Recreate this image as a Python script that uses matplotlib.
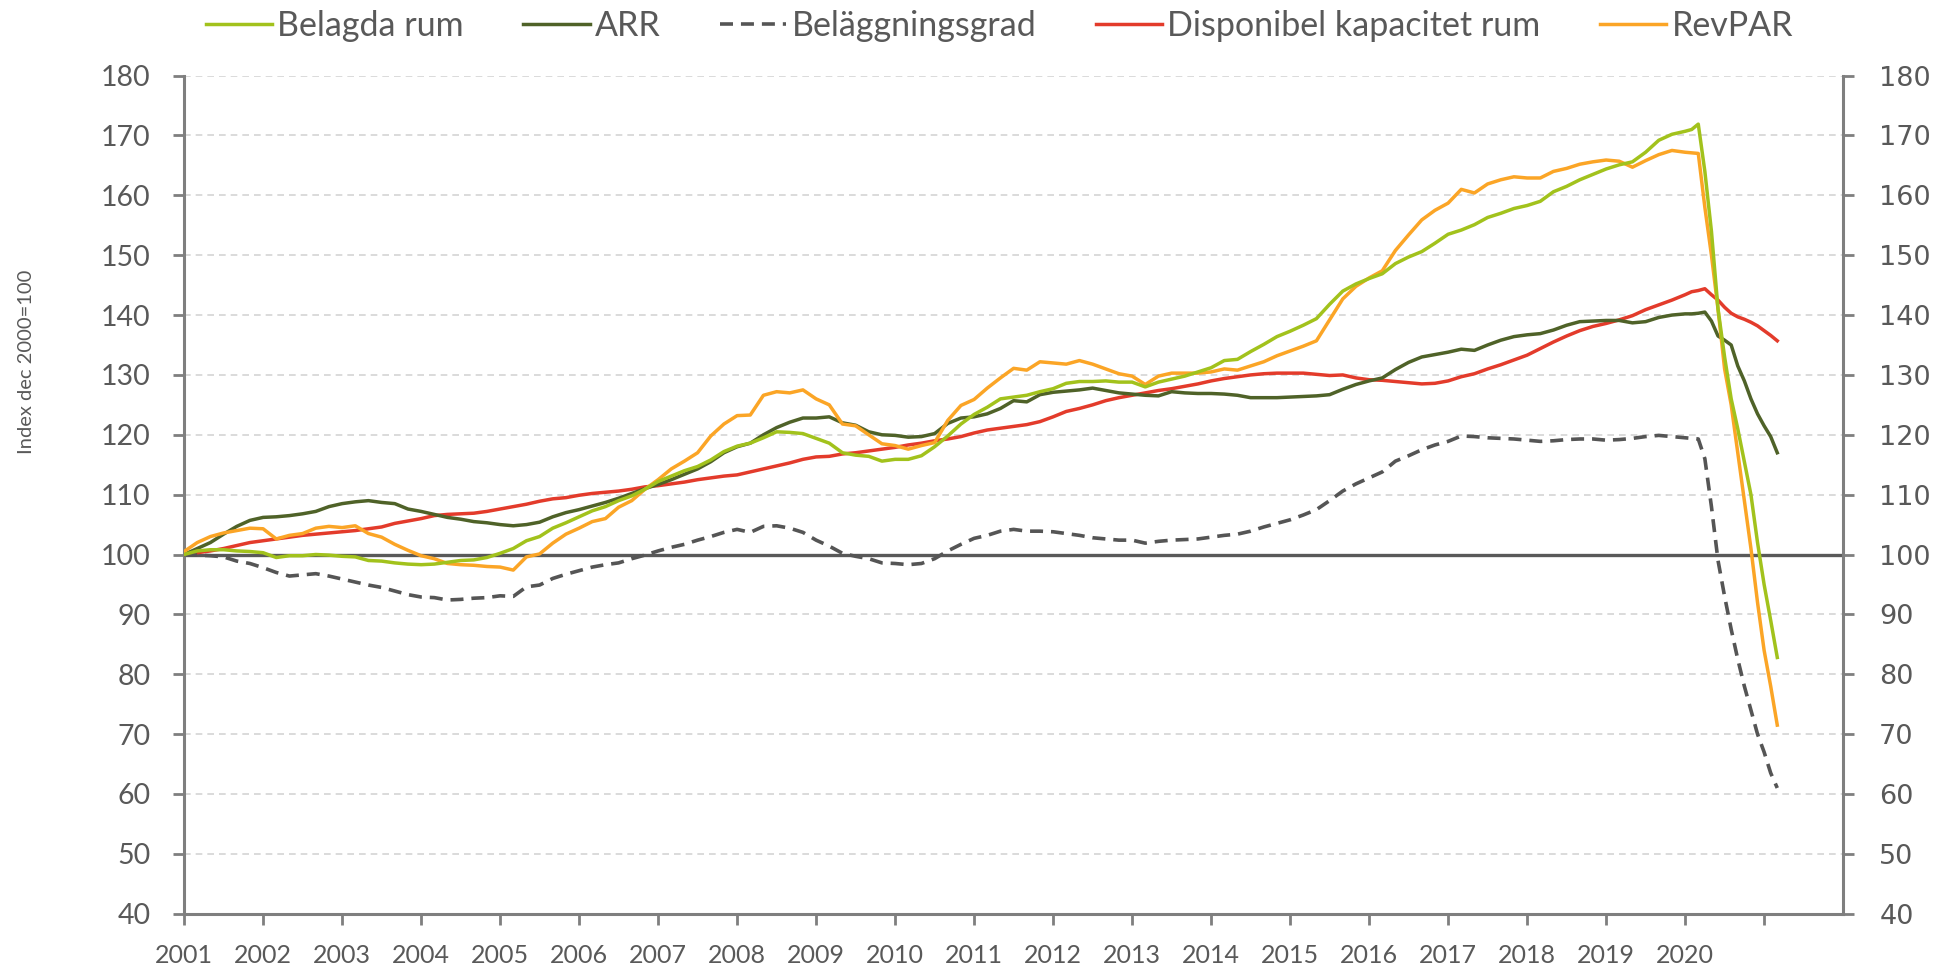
import matplotlib
matplotlib.use("Agg")
import matplotlib.pyplot as plt
import numpy as np

# ---------------- data ----------------
# months since Dec 2000 (Dec 2000 = index 100); bimonthly up to 2019, monthly through the 2020 drop
month_index = list(range(0, 229, 2)) + list(range(229, 243))
start_year = 2001

belagda_rum = [
    100.0, 100.6, 100.8, 100.8, 100.6, 100.5, 100.3, 99.5, 99.8, 99.8,
    100.0, 99.9, 99.7, 99.6, 99.0, 98.9, 98.6, 98.4, 98.3, 98.4,
    98.7, 99.0, 99.1, 99.5, 100.2, 101.0, 102.3, 103.0, 104.4, 105.3,
    106.3, 107.3, 108.0, 109.0, 109.8, 110.9, 112.2, 113.1, 114.0, 114.7,
    115.8, 117.2, 118.1, 118.6, 119.5, 120.5, 120.4, 120.2, 119.4, 118.6,
    117.0, 116.6, 116.4, 115.6, 115.9, 115.9, 116.5, 118.0, 119.8, 121.8,
    123.4, 124.6, 126.0, 126.3, 126.6, 127.2, 127.7, 128.6, 128.9, 128.9,
    129.0, 128.8, 128.8, 128.0, 128.8, 129.3, 129.8, 130.5, 131.2, 132.4,
    132.6, 133.9, 135.1, 136.4, 137.3, 138.3, 139.4, 141.8, 144.0, 145.2,
    146.1, 146.9, 148.6, 149.7, 150.6, 152.0, 153.5, 154.2, 155.1, 156.3,
    157.0, 157.8, 158.3, 159.0, 160.6, 161.5, 162.6, 163.5, 164.4, 165.1,
    165.6, 167.2, 169.2, 170.2, 170.7,
    171.0, 171.9, 164.0, 154.0, 141.0, 133.0, 126.0, 121.0, 115.5, 110.0,
    102.0, 95.0, 89.0, 82.8,
]

arr = [
    100.0, 101.0, 102.0, 103.4, 104.7, 105.7, 106.2, 106.3, 106.5, 106.8,
    107.2, 108.0, 108.5, 108.8, 109.0, 108.7, 108.5, 107.6, 107.2, 106.7,
    106.2, 105.9, 105.5, 105.3, 105.0, 104.8, 105.0, 105.4, 106.3, 107.0,
    107.5, 108.1, 108.7, 109.4, 110.2, 111.0, 111.7, 112.5, 113.4, 114.3,
    115.5, 117.0, 118.0, 118.6, 120.0, 121.2, 122.1, 122.8, 122.8, 123.0,
    122.0, 121.6, 120.5, 120.0, 119.9, 119.6, 119.7, 120.2, 121.9, 122.8,
    123.0, 123.5, 124.4, 125.7, 125.5, 126.7, 127.1, 127.3, 127.5, 127.8,
    127.4, 127.0, 126.8, 126.6, 126.5, 127.2, 127.0, 126.9, 126.9, 126.8,
    126.6, 126.2, 126.2, 126.2, 126.3, 126.4, 126.5, 126.7, 127.6, 128.4,
    129.0, 129.5, 130.9, 132.1, 133.0, 133.4, 133.8, 134.3, 134.1, 135.0,
    135.8, 136.4, 136.7, 136.9, 137.5, 138.3, 138.9, 139.0, 139.1, 139.1,
    138.7, 138.9, 139.6, 140.0, 140.2,
    140.2, 140.3, 140.5, 139.0, 136.5, 135.8, 135.0, 131.5, 129.0, 126.0,
    123.5, 121.5, 119.7, 117.0,
]

belaggningsgrad = [
    100.0, 99.9, 99.8, 99.6, 98.9, 98.5, 97.8, 97.0, 96.4, 96.6,
    96.8, 96.4, 95.9, 95.4, 94.9, 94.5, 93.9, 93.3, 92.9, 92.8,
    92.4, 92.5, 92.7, 92.8, 93.1, 93.0, 94.6, 94.9, 96.0, 96.7,
    97.3, 97.9, 98.3, 98.6, 99.3, 99.9, 100.6, 101.2, 101.7, 102.4,
    103.0, 103.7, 104.2, 103.7, 104.7, 104.8, 104.4, 103.7, 102.4, 101.4,
    100.2, 99.7, 99.3, 98.6, 98.5, 98.3, 98.5, 99.3, 100.6, 101.7,
    102.7, 103.2, 103.9, 104.2, 103.9, 103.9, 103.8, 103.5, 103.2, 102.8,
    102.6, 102.4, 102.4, 101.9, 102.2, 102.4, 102.5, 102.6, 102.9, 103.2,
    103.4, 103.9, 104.6, 105.2, 105.8, 106.6, 107.5, 109.0, 110.6, 111.8,
    112.8, 113.8, 115.6, 116.5, 117.5, 118.3, 118.9, 119.8, 119.7, 119.5,
    119.4, 119.3, 119.1, 118.9, 119.0, 119.2, 119.3, 119.3, 119.1, 119.2,
    119.4, 119.7, 119.9, 119.7, 119.5,
    119.4, 119.3, 116.0, 108.0, 99.0, 93.0, 87.5, 82.5, 78.0, 74.0,
    70.0, 67.0, 63.5, 61.0,
]

disponibel_kapacitet = [
    100.0, 100.3, 100.6, 101.0, 101.5, 102.0, 102.3, 102.6, 102.9, 103.2,
    103.4, 103.6, 103.8, 104.0, 104.3, 104.6, 105.2, 105.6, 106.0, 106.5,
    106.7, 106.8, 106.9, 107.2, 107.6, 108.0, 108.4, 108.9, 109.3, 109.5,
    109.9, 110.2, 110.4, 110.6, 110.9, 111.3, 111.5, 111.8, 112.1, 112.5,
    112.8, 113.1, 113.3, 113.8, 114.3, 114.8, 115.3, 115.9, 116.3, 116.4,
    116.8, 117.0, 117.3, 117.6, 117.9, 118.3, 118.6, 119.0, 119.3, 119.7,
    120.3, 120.8, 121.1, 121.4, 121.7, 122.2, 123.0, 123.9, 124.4, 125.0,
    125.7, 126.2, 126.6, 127.0, 127.4, 127.7, 128.1, 128.5, 129.0, 129.4,
    129.7, 130.0, 130.2, 130.3, 130.3, 130.3, 130.1, 129.9, 130.0, 129.5,
    129.2, 129.1, 128.9, 128.7, 128.5, 128.6, 129.0, 129.7, 130.2, 131.0,
    131.7, 132.5, 133.3, 134.4, 135.5, 136.5, 137.4, 138.1, 138.6, 139.2,
    139.9, 140.9, 141.7, 142.5, 143.4,
    143.9, 144.1, 144.4, 143.4, 142.5, 141.3, 140.3, 139.7, 139.3, 138.8,
    138.2, 137.4, 136.6, 135.7,
]

revpar = [
    100.5, 102.0, 103.0, 103.6, 104.0, 104.4, 104.3, 102.6, 103.2, 103.5,
    104.4, 104.7, 104.5, 104.8, 103.5, 102.9, 101.7, 100.7, 99.8, 99.3,
    98.5, 98.3, 98.2, 98.0, 97.9, 97.4, 99.6, 100.1, 101.9, 103.4,
    104.4, 105.5, 106.0, 107.9, 109.0, 110.9, 112.5, 114.3, 115.6, 117.0,
    119.8, 121.8, 123.2, 123.3, 126.6, 127.2, 127.0, 127.5, 126.0, 125.0,
    121.8, 121.5, 120.0, 118.5, 118.2, 117.6, 118.2, 118.7, 122.4, 124.9,
    125.9, 127.8, 129.5, 131.1, 130.8, 132.2, 132.0, 131.8, 132.4, 131.8,
    131.0, 130.2, 129.8, 128.4, 129.8, 130.3, 130.3, 130.3, 130.5, 131.0,
    130.8, 131.5, 132.2, 133.2, 134.0, 134.8, 135.7, 139.2, 142.7, 144.8,
    146.2, 147.4, 150.8, 153.4, 155.9, 157.5, 158.7, 161.0, 160.4, 161.9,
    162.6, 163.1, 162.9, 162.9, 164.0, 164.5, 165.2, 165.6, 165.9, 165.7,
    164.7, 165.8, 166.8, 167.5, 167.2,
    167.1, 167.0, 158.0, 150.0, 141.0, 131.0, 125.0, 117.0, 109.0, 101.0,
    92.0, 84.0, 78.0, 71.5,
]

year_labels = [str(y) for y in range(2001, 2021)]
y_ticks = list(range(40, 181, 10))

series_names = ["Belagda rum", "ARR", "Beläggningsgrad",
                "Disponibel kapacitet rum", "RevPAR"]

# ---------------- plot ----------------
plt.rcParams["font.family"] = ["Lato", "DejaVu Sans"]
TXT = "#595959"
AXC = "#7f7f7f"

fig = plt.figure(figsize=(19.44, 9.72), dpi=100)
ax = fig.add_axes([0.0947, 0.06, 0.8534, 0.8622])

x = start_year + np.array(month_index) / 12.0

ax.set_xlim(2001, 2022)
ax.set_ylim(40, 180)

# gridlines
for v in y_ticks[1:]:
    if v == 100:
        continue
    ax.axhline(v, color="#d4d4d4", lw=1.2, ls=(0, (4, 3)), zorder=0)
ax.axhline(100, color=TXT, lw=2.4, zorder=1.5)

l_red, = ax.plot(x, disponibel_kapacitet, color="#e33b2b", lw=2.5, zorder=3)
l_arr, = ax.plot(x, arr, color="#4f6228", lw=2.5, zorder=3)
l_dash, = ax.plot(x, belaggningsgrad, color="#555555", lw=2.6,
                  ls=(0, (3.6, 2.2)), zorder=3)
l_rev, = ax.plot(x, revpar, color="#fba526", lw=2.5, zorder=4)
l_bel, = ax.plot(x, belagda_rum, color="#a2c21c", lw=2.5, zorder=4)

# axes styling
for s in ["top", "right"]:
    ax.spines[s].set_visible(False)
for s in ["left", "bottom"]:
    ax.spines[s].set_color(AXC)
    ax.spines[s].set_linewidth(2.2)

ax.set_xticks(list(range(2001, 2022)))
ax.set_xticklabels(year_labels + [""])
ax.set_yticks(y_ticks)
ax.set_yticklabels([str(v) for v in y_ticks])
ax.tick_params(axis="x", direction="out", length=8, width=2, color=AXC,
               labelsize=18, labelcolor=TXT, pad=14)
ax.tick_params(axis="y", direction="out", length=8, width=2, color=AXC,
               labelsize=20.5, labelcolor=TXT, pad=16)

ax2 = ax.twinx()
ax2.set_ylim(40, 180)
ax2.set_yticks(y_ticks)
ax2.set_yticklabels([str(v) for v in y_ticks], family="DejaVu Sans")
for s in ["top", "left", "bottom"]:
    ax2.spines[s].set_visible(False)
ax2.spines["right"].set_color(AXC)
ax2.spines["right"].set_linewidth(2.2)
ax2.tick_params(axis="y", direction="out", length=8, width=2, color=AXC,
                labelsize=19.5, labelcolor=TXT, pad=18)

fig.text(27 / 1944, 1 - 362 / 972, "Index dec 2000=100", rotation=90,
         ha="center", va="center", fontsize=14.5, color=TXT)

handles = [l_bel, l_arr, l_dash, l_red, l_rev]
leg = fig.legend(handles, series_names, loc="center",
                 bbox_to_anchor=(0.514, 0.973), ncol=5, frameon=False,
                 fontsize=24.5, handlelength=1.95, handletextpad=0.15,
                 columnspacing=1.75, labelcolor=TXT)

fig.savefig("out.png", dpi=100)
